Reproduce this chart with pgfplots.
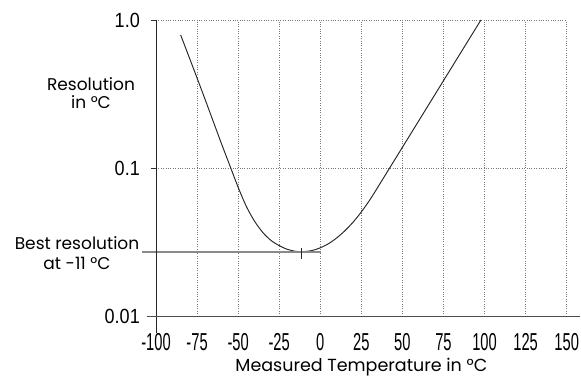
\documentclass[border=0pt]{standalone}
\usepackage{fontspec}
\setmainfont{Poppins}
\newfontfamily\ytickfont[FakeStretch=0.88]{Liberation Sans}
\newfontfamily\xtickfont[FakeStretch=0.6]{Liberation Sans}
\usepackage{pgfplots}
\pgfplotsset{compat=1.18}
\definecolor{gridgray}{HTML}{777777}
\definecolor{linegray}{HTML}{8A8A8A}
\begin{document}
\begin{tikzpicture}
\useasboundingbox (-156bp,-61bp) rectangle (425bp,316bp);
\begin{axis}[
  at={(0,0)}, anchor=south west,
  scale only axis, width=410.7bp, height=296bp,
  xmin=-100, xmax=150, ymin=0.01, ymax=1,
  ymode=log,
  clip=false,
  axis line style={draw=none},
  xtick={-100,-75,...,150},
  xticklabels={-100,-75,-50,-25,0,25,50,75,100,125,150},
  ytick={0.01,0.1,1},
  yticklabels={0.01,0.1,1.0},
  xtick pos=bottom, ytick pos=left,
  tick align=outside,
  major tick length=5bp,
  minor tick length=0pt,
  xtick style={draw=none},
  ytick style={draw=black!80, line width=0.6bp},
  grid=major,
  major grid style={gridgray, dotted, line width=0.7bp},
  xticklabel style={font=\xtickfont\fontsize{24.5bp}{24bp}\selectfont, inner sep=0pt, yshift=-12bp},
  yticklabel style={font=\ytickfont\fontsize{20.5bp}{20bp}\selectfont, inner sep=0pt, xshift=-11bp},
  xlabel={Measured Temperature in °C},
  xlabel style={font=\fontsize{17.5bp}{19bp}\selectfont, yshift=-4bp},
]
% curve
\addplot[black!85, line width=0.95bp, smooth, tension=0.5] coordinates {
(-85,0.7925) (-80,0.5675) (-75,0.4055) (-70,0.2884) (-65,0.2042)
(-60,0.1445) (-55,0.1035) (-50,0.0741) (-45,0.0550) (-40,0.0437)
(-35,0.0367) (-30,0.0324) (-25,0.0299) (-20,0.0282) (-15,0.02735)
(-11.5,0.02716) (-5,0.0277) (0,0.0289) (5,0.0308) (10,0.0337)
(15,0.0377) (20,0.0431) (25,0.0505) (30,0.0605) (33,0.0682)
(35,0.0741) (40,0.0912) (45,0.1122) (50,0.1380) (60,0.2089)
(70,0.3162) (80,0.4786) (90,0.7244) (97.8,1.0)
};
% best resolution line
\addplot[linegray, line width=1.5bp] coordinates {(-108.5,0.02716) (0.5,0.02716)};
\addplot[black!85, line width=0.7bp] coordinates {(-11.5,0.0243) (-11.5,0.0290)};
% axis lines
\draw[black!85, line width=0.8bp] (rel axis cs:0,1) -- ([yshift=-17bp]rel axis cs:0,0);
\draw[black!70, line width=0.9bp] ([xshift=-9bp]rel axis cs:0,0) -- ([xshift=13bp]rel axis cs:1,0);
\end{axis}
\node[font=\fontsize{17bp}{18bp}\selectfont, align=center] at (-65bp,223bp) {Resolution\\in °C};
\node[font=\fontsize{17bp}{19.5bp}\selectfont, align=center] at (-79bp,63bp) {Best resolution\\at -11 °C};
\end{tikzpicture}
\end{document}
